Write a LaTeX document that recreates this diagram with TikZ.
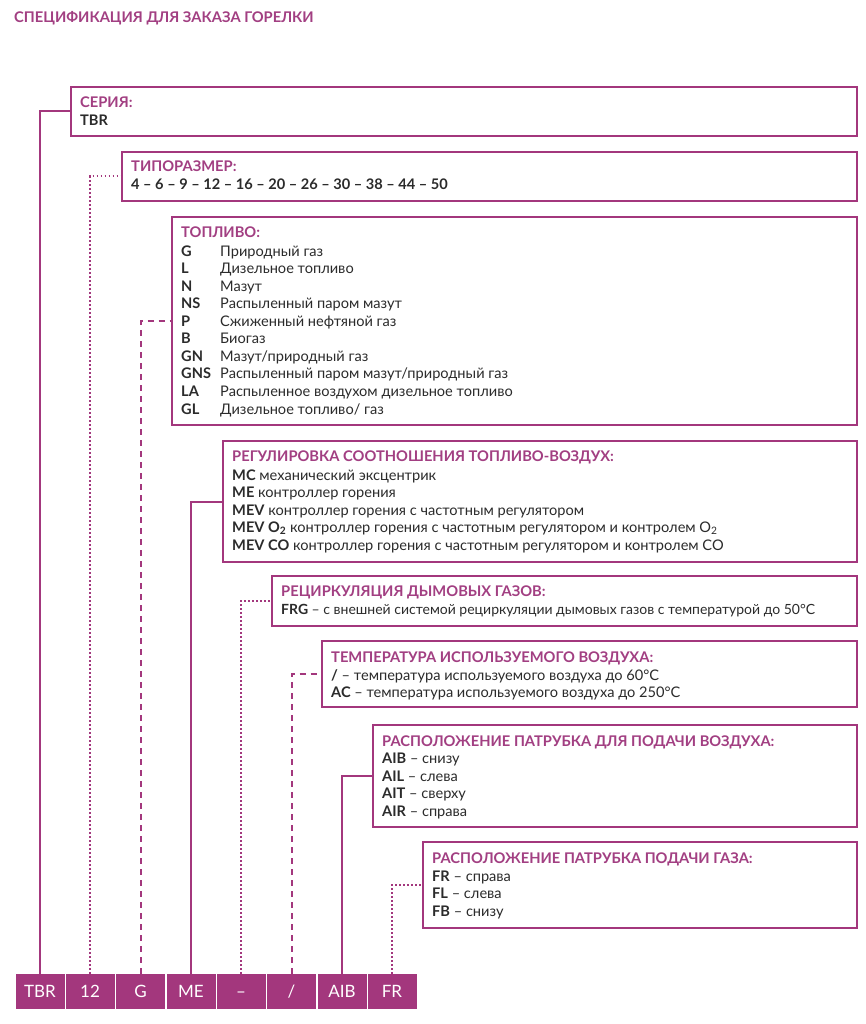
\documentclass[tikz,border=0pt]{standalone}
\usepackage{fontspec}
\setmainfont{Lato}
\definecolor{pur}{HTML}{A3377D}
\definecolor{purtxt}{HTML}{A23F82}
\definecolor{txt}{HTML}{2B2B2B}
\tikzset{
 box/.style={draw=pur, line width=2pt, anchor=north west, inner sep=0pt},
 cell/.style={fill=pur, text=white, minimum width=49pt, minimum height=35pt, inner sep=0pt, text height=12pt, text depth=0pt, font=\fontsize{17}{19}\selectfont},
 ttl/.style={anchor=base west, inner sep=0pt, text=purtxt, font=\fontsize{14.7}{17}\selectfont\bfseries},
 tx/.style={anchor=base west, inner sep=0pt, text=txt, font=\fontsize{14.6}{17}\selectfont},
 cd/.style={anchor=base west, inner sep=0pt, text=txt, font=\fontsize{14.6}{17}\selectfont\bfseries},
 con/.style={draw=pur, line width=2pt},
 dott/.style={con, dash pattern=on 1.5pt off 2.5pt},
 dsh/.style={con, dash pattern=on 6pt off 5pt},
}
\begin{document}
\begin{tikzpicture}[x=1pt,y=-1pt]
\useasboundingbox[fill=white] (0,0) rectangle (866,1024);
\node[ttl] (head) at (14,23) {СПЕЦИФИКАЦИЯ ДЛЯ ЗАКАЗА ГОРЕЛКИ};
% boxes
\node[box, minimum width=786pt, minimum height=49pt] (b1) at (70,86) {};
\node[box, minimum width=735pt, minimum height=49pt] (b2) at (121,151) {};
\node[box, minimum width=685pt, minimum height=208pt] (b3) at (171,216) {};
\node[box, minimum width=634pt, minimum height=121pt] (b4) at (222,440) {};
\node[box, minimum width=585pt, minimum height=50pt] (b5) at (271,575) {};
\node[box, minimum width=535pt, minimum height=66pt] (b6) at (321,640) {};
\node[box, minimum width=484pt, minimum height=102pt] (b7) at (372,724) {};
\node[box, minimum width=434pt, minimum height=86pt] (b8) at (422,841) {};
% box 1
\node[ttl] (t1) at (80,108) {СЕРИЯ:};
\node[cd] (t1a) at (80,126) {TBR};
% box 2
\node[ttl] (t2) at (131,172) {ТИПОРАЗМЕР:};
\node[cd] (t2a) at (131,190) {4 – 6 – 9 – 12 – 16 – 20 – 26 – 30 – 38 – 44 – 50};
% box 3
\node[ttl] (t3) at (181,237) {ТОПЛИВО:};
\node[cd] (k1) at (181,256) {G};    \node[tx] (d1) at (220,256) {Природный газ};
\node[cd] (k2) at (181,273.6) {L};  \node[tx] (d2) at (220,273.6) {Дизельное топливо};
\node[cd] (k3) at (181,291.1) {N};  \node[tx] (d3) at (220,291.1) {Мазут};
\node[cd] (k4) at (181,308.7) {NS}; \node[tx] (d4) at (220,308.7) {Распыленный паром мазут};
\node[cd] (k5) at (181,326.2) {P};  \node[tx] (d5) at (220,326.2) {Сжиженный нефтяной газ};
\node[cd] (k6) at (181,343.8) {B};  \node[tx] (d6) at (220,343.8) {Биогаз};
\node[cd] (k7) at (181,361.4) {GN}; \node[tx] (d7) at (220,361.4) {Мазут/природный газ};
\node[cd] (k8) at (181,378.9) {GNS};\node[tx] (d8) at (220,378.9) {Распыленный паром мазут/природный газ};
\node[cd] (k9) at (181,396.5) {LA}; \node[tx] (d9) at (220,396.5) {Распыленное воздухом дизельное топливо};
\node[cd] (k10) at (181,414) {GL};  \node[tx] (d10) at (220,414) {Дизельное топливо/ газ};
% box 4
\node[ttl] (t4) at (232,461) {РЕГУЛИРОВКА СООТНОШЕНИЯ ТОПЛИВО-ВОЗДУХ:};
\node[tx] (r1) at (232,480) {\textbf{MC} механический эксцентрик};
\node[tx] (r2) at (232,497) {\textbf{ME} контроллер горения};
\node[tx] (r3) at (232,515) {\textbf{MEV} контроллер горения с частотным регулятором};
\node[tx] (r4) at (232,532) {\textbf{MEV O\textsubscript{2}} контроллер горения с частотным регулятором и контролем O\textsubscript{2}};
\node[tx] (r5) at (232,550) {\textbf{MEV CO} контроллер горения с частотным регулятором и контролем CO};
% box 5
\node[ttl] (t5) at (281,596) {РЕЦИРКУЛЯЦИЯ ДЫМОВЫХ ГАЗОВ:};
\node[tx, font=\fontsize{14}{17}\selectfont] (s1) at (281,614) {\textbf{FRG} – с внешней системой рециркуляции дымовых газов с температурой до 50°C};
% box 6
\node[ttl] (t6) at (331,662) {ТЕМПЕРАТУРА ИСПОЛЬЗУЕМОГО ВОЗДУХА:};
\node[tx] (u1) at (331,680) {\textbf{/} – температура используемого воздуха до 60°C};
\node[tx] (u2) at (331,697) {\textbf{AC} – температура используемого воздуха до 250°C};
% box 7
\node[ttl] (t7) at (382,746) {РАСПОЛОЖЕНИЕ ПАТРУБКА ДЛЯ ПОДАЧИ ВОЗДУХА:};
\node[tx] (v1) at (382,763) {\textbf{AIB} – снизу};
\node[tx] (v2) at (382,781) {\textbf{AIL} – слева};
\node[tx] (v3) at (382,798) {\textbf{AIT} – сверху};
\node[tx] (v4) at (382,816) {\textbf{AIR} – справа};
% box 8
\node[ttl] (t8) at (432,863) {РАСПОЛОЖЕНИЕ ПАТРУБКА ПОДАЧИ ГАЗА:};
\node[tx] (w1) at (432,881) {\textbf{FR} – справа};
\node[tx] (w2) at (432,898) {\textbf{FL} – слева};
\node[tx] (w3) at (432,916) {\textbf{FB} – снизу};
% cells
\node[cell] (c1) at (40,991.5) {TBR};
\node[cell] (c2) at (90,991.5) {12};
\node[cell] (c3) at (140.5,991.5) {G};
\node[cell] (c4) at (191,991.5) {ME};
\node[cell] (c5) at (241,991.5) {–};
\node[cell] (c6) at (291.5,991.5) {/};
\node[cell] (c7) at (342,991.5) {AIB};
\node[cell] (c8) at (392,991.5) {FR};
% connectors
\draw[con] (c1.north) |- (b1.west);
\draw[dott] (c2.north) |- (b2.west);
\draw[dsh] (c3.north) |- (b3.west);
\draw[con] (c4.north) |- (b4.west);
\draw[dott] (c5.north) |- (b5.west);
\draw[dsh] (c6.north) |- (b6.west);
\draw[con] (c7.north) |- (b7.west);
\draw[dott] (c8.north) |- (b8.west);
\end{tikzpicture}
\end{document}
